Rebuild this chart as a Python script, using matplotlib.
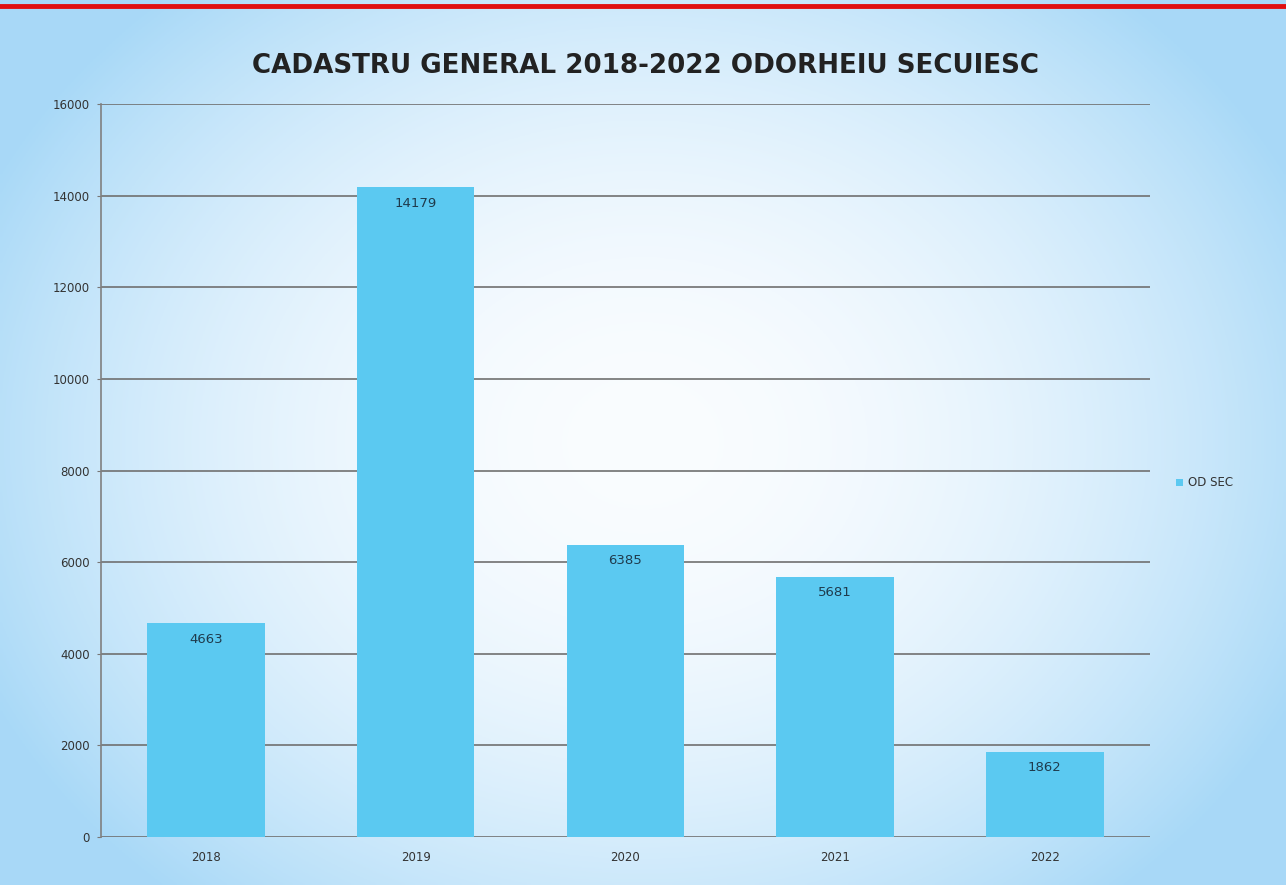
import numpy as np
import matplotlib.pyplot as plt

years = ['2018', '2019', '2020', '2021', '2022']
values = [4663, 14179, 6385, 5681, 1862]
series_name = 'OD SEC'
y_ticks = [0, 2000, 4000, 6000, 8000, 10000, 12000, 14000, 16000]

fig = plt.figure(figsize=(12.86, 8.85), dpi=100)

# fundal cu gradient radial
bg = fig.add_axes([0, 0, 1, 1], zorder=0)
yy, xx = np.mgrid[0:1:300j, 0:1:400j]
r = np.sqrt(((xx - 0.5) / 0.75) ** 2 + ((yy - 0.5) / 0.9) ** 2)
r = np.clip(r / 0.75, 0, 1)
c_in = np.array([0.98, 0.99, 1.0])
c_out = np.array([0.66, 0.85, 0.97])
img = c_in + (c_out - c_in) * (r[..., None] ** 2.0)
bg.imshow(img, extent=[0, 1, 0, 1], aspect='auto', origin='lower')
bg.plot([0, 1], [0.9935, 0.9935], color='#e01010', lw=3.5, transform=bg.transAxes)
bg.set_xlim(0, 1)
bg.set_ylim(0, 1)
bg.axis('off')

ax = fig.add_axes([0.0785, 0.0542, 0.8155, 0.8283], zorder=1)
ax.patch.set_alpha(0)
x = np.arange(len(years))
bars = ax.bar(x, values, width=0.56, color='#5bc9f1', label=series_name, zorder=2)
for b, v in zip(bars, values):
    ax.text(b.get_x() + b.get_width() / 2, v - 200, str(v), ha='center', va='top',
            fontsize=9.5, color='#1f3b4d', zorder=3)

ax.set_xlim(-0.5, len(years) - 0.5)
ax.set_ylim(0, 16000)
ax.set_yticks(y_ticks)
ax.set_xticks(x)
ax.set_xticklabels(years)
ax.tick_params(axis='both', labelsize=8.5, colors='#333333', length=0, pad=10)
ax.tick_params(axis='y', length=3, color='#777777', pad=5)
ax.grid(axis='y', color='#707070', lw=1.2, zorder=1)
for s in ['top', 'right', 'bottom']:
    ax.spines[s].set_visible(False)
ax.spines['left'].set_color('#808080')
ax.spines['left'].set_linewidth(1.2)

fig.text(0.502, 0.925, 'CADASTRU GENERAL 2018-2022 ODORHEIU SECUIESC', ha='center', va='center',
         fontsize=18.8, fontweight='semibold', color='#222222', family='DejaVu Sans')

ax.legend(loc='center left', bbox_to_anchor=(1.015, 0.483), frameon=False, fontsize=8.5,
          handlelength=0.6, handleheight=0.6, handletextpad=0.4, labelcolor='#333333')

fig.savefig('out.png', dpi=100)
